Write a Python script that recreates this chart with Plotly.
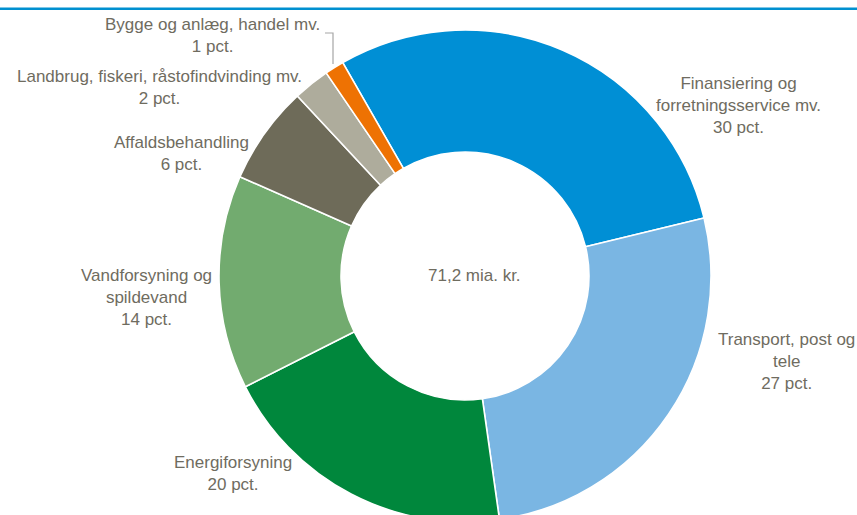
import plotly.graph_objects as go

# Data (mia. kr., total 71,2)
sectors = [
    "Finansiering og forretningsservice mv.",
    "Transport, post og tele",
    "Energiforsyning",
    "Vandforsyning og spildevand",
    "Affaldsbehandling",
    "Landbrug, fiskeri, råstofindvinding mv.",
    "Bygge og anlæg, handel mv.",
]
values = [21.0, 18.9, 14.1, 10.0, 4.6, 1.7, 0.9]
pct_labels = ["30 pct.", "27 pct.", "20 pct.", "14 pct.", "6 pct.", "2 pct.", "1 pct."]
label_lines = [
    ["Finansiering og", "forretningsservice mv."],
    ["Transport, post og", "tele"],
    ["Energiforsyning"],
    ["Vandforsyning og", "spildevand"],
    ["Affaldsbehandling"],
    ["Landbrug, fiskeri, råstofindvinding mv."],
    ["Bygge og anlæg, handel mv."],
]
colors = ["#008FD5", "#7AB6E3", "#00873C", "#72AB6F", "#6E6B59", "#AEAC9C", "#EE7203"]
center_text = "71,2 mia. kr."

W, H = 857, 522  # the visible window is 515 tall; the ring runs just past the bottom edge as in the reference
TXT = "#6F6C5F"
FONT = "Liberation Sans, Arial, sans-serif"

# pie geometry in pixels
cx, cy, R = 465, 276, 246

fig = go.Figure(go.Pie(
    labels=sectors,
    values=values,
    sort=False,
    direction="clockwise",
    rotation=-29.8,
    hole=0.504,
    marker=dict(colors=colors, line=dict(color="white", width=1.6)),
    textinfo="none",
    hoverinfo="label+percent",
    showlegend=False,
    domain=dict(x=[(cx - R) / W, (cx + R) / W],
                y=[max(0, (H - cy - R) / H), (H - cy + R) / H]),
))

# label anchor centers (pixels from top-left)
label_pos = [(738, 106), (786, 361), (233, 473), (146, 297), (181, 153), (159, 88), (212, 35)]

for lines, pct, (x, y) in zip(label_lines, pct_labels, label_pos):
    fig.add_annotation(
        x=x / W, y=1 - y / H, xref="paper", yref="paper",
        text="<br>".join(lines + [pct]),
        showarrow=False, xanchor="center", yanchor="middle", align="center",
        font=dict(family=FONT, size=17, color=TXT),
    )

fig.add_annotation(
    x=474 / W, y=1 - 275 / H, xref="paper", yref="paper",
    text=center_text, showarrow=False, xanchor="center", yanchor="middle",
    font=dict(family=FONT, size=17, color=TXT),
)

# top rule
fig.add_shape(type="line", xref="paper", yref="paper", x0=0, x1=1,
              y0=1 - 8.7 / H, y1=1 - 8.7 / H, line=dict(color="#0090D0", width=2.5))
# leader line for smallest slice
fig.add_shape(type="path", xref="paper", yref="paper",
              path=f"M {325/W} {1-33/H} L {333/W} {1-33/H} L {333/W} {1-64/H}",
              line=dict(color="#A6A6A6", width=1.2))

fig.update_layout(
    width=W, height=H,
    margin=dict(l=0, r=0, t=0, b=0),
    paper_bgcolor="white", plot_bgcolor="white",
    font=dict(family=FONT, color=TXT),
)

fig.write_html(
    "out.html",
    config={"displayModeBar": False},
    post_script="document.body.style.margin='0';document.body.style.overflow='hidden';",
)
